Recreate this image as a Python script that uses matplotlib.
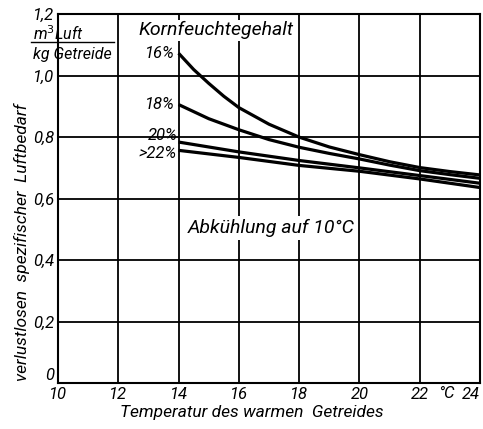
import numpy as np
import matplotlib.pyplot as plt

# Daten
t16 = [14, 14.5, 15, 15.5, 16, 17, 18, 19, 20, 21, 22, 23, 24]
b16 = [1.073, 1.020, 0.975, 0.933, 0.896, 0.842, 0.800, 0.768, 0.743, 0.720, 0.701, 0.688, 0.677]
t18 = [14, 15, 16, 17, 18, 19, 20, 21, 22, 23, 24]
b18 = [0.906, 0.860, 0.824, 0.792, 0.767, 0.747, 0.729, 0.709, 0.691, 0.678, 0.666]
t20 = [14, 16, 18, 20, 22, 24]
b20 = [0.784, 0.752, 0.724, 0.700, 0.675, 0.650]
t22 = [14, 16, 18, 20, 22, 24]
b22 = [0.757, 0.734, 0.708, 0.689, 0.664, 0.636]

curves = [(t16, b16, '16%'), (t18, b18, '18%'), (t20, b20, '20%'), (t22, b22, '>22%')]
xticks = [10, 12, 14, 16, 18, 20, 22, 24]
yticks = [0, 0.2, 0.4, 0.6, 0.8, 1.0, 1.2]
ylabels = ['0', '0,2', '0,4', '0,6', '0,8', '1,0', '1,2']

font = dict(style='italic', family=['Roboto', 'DejaVu Sans'])

fig = plt.figure(figsize=(4.83, 4.29), dpi=100)
ax = fig.add_axes([0.120, 0.107, 0.874, 0.860])

ax.set_xlim(10, 24)
ax.set_ylim(0, 1.2)
ax.set_xticks(xticks)
ax.set_yticks(yticks)
ax.set_xticklabels([str(v) for v in xticks], fontsize=12, **font)
ax.set_yticklabels(ylabels, fontsize=12, **font)
ax.get_xticklabels()[-1].set_ha('right')
ax.tick_params(length=0, pad=3)
ax.get_yticklabels()[0].set_va('bottom')
ax.grid(True, color='black', lw=1.3)
for s in ax.spines.values():
    s.set_linewidth(1.5)

for t, b, lab in curves:
    ax.plot(t, b, color='black', lw=2.3, solid_capstyle='butt')

# Beschriftung der Kurven
ax.text(13.88, 1.073, '16%', ha='right', va='center', fontsize=12, **font)
ax.text(13.88, 0.906, '18%', ha='right', va='center', fontsize=12, **font)
ax.text(13.95, 0.805, '20%', ha='right', va='center', fontsize=12, **font)
ax.text(13.95, 0.748, '>22%', ha='right', va='center', fontsize=12, **font)

ax.text(12.67, 1.148, 'Kornfeuchtegehalt', ha='left', va='center', fontsize=14,
        bbox=dict(fc='white', ec='none', pad=1), **font)
ax.text(14.3, 0.505, 'Abkühlung auf 10°C', ha='left', va='center', fontsize=14,
        bbox=dict(fc='white', ec='none', pad=2), **font)

ax.set_xlabel('Temperatur des warmen  Getreides', fontsize=12.5, **font)
ax.xaxis.set_label_coords(0.46, -0.06)
fig.text(0.045, 0.436, 'verlustlosen  spezifischer  Luftbedarf', rotation=90,
         ha='center', va='center', fontsize=12.5, **font)

# Einheit
fig.text(0.068, 0.922, 'm$^3$Luft', ha='left', va='center', fontsize=11.5, **font)
fig.text(0.068, 0.874, 'kg Getreide', ha='left', va='center', fontsize=11.5, **font)
fig.add_artist(plt.Line2D([0.064, 0.236], [0.901, 0.901], color='black', lw=1))
fig.text(0.925, 0.083, '°C', ha='center', va='center', fontsize=12, **font)

fig.savefig('out.png', dpi=100)
